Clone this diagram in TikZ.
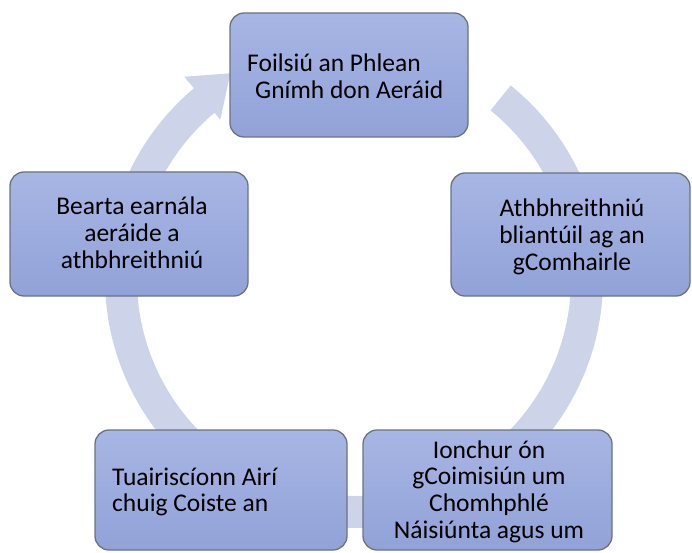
\documentclass[tikz,border=0pt]{standalone}
\usepackage{fontspec}
\setmainfont{Carlito}
\newcommand\cstack[1]{\vtop{\halign{\hfil##\hfil\cr#1\crcr}}}
\newcommand\lstack[1]{\vtop{\halign{##\hfil\cr#1\crcr}}}
\definecolor{ringc}{HTML}{CDD4EA}
\definecolor{boxtop}{HTML}{A8B6E4}
\definecolor{boxbot}{HTML}{91A2D8}
\definecolor{boxline}{HTML}{6C7282}
\begin{document}
\begin{tikzpicture}[x=1pt,y=1pt,
  cbox/.style={draw=boxline, line width=1.3pt, rounded corners=14pt,
    top color=boxtop, bottom color=boxbot, inner sep=0pt},
  ctext/.style={inner sep=0pt, font=\fontsize{25.5}{26.7}\selectfont, text=black}]
\useasboundingbox (0,0) rectangle (692,552);
% cycle ring with arrow head
\begin{scope}[shift={(354,273)}]
  \fill[ringc] (51:249) arc[start angle=51, end angle=-230, radius=249pt]
    -- (130:264) -- (121:240) -- (130:208) -- (130:217)
    arc[start angle=-230, end angle=51, radius=217pt] -- cycle;
\end{scope}
% boxes
\node[cbox, minimum width=238pt, minimum height=124pt] (top) at (349,477) {};
\node[cbox, minimum width=238pt, minimum height=124pt] (left) at (129,318) {};
\node[cbox, minimum width=239pt, minimum height=123pt] (right) at (570.5,317.5) {};
\node[cbox, minimum width=252pt, minimum height=120pt] (bl) at (221,62) {};
\node[cbox, minimum width=249pt, minimum height=120pt] (br) at (487.5,62) {};
% texts
\node[ctext, anchor=base west] (topt) at (247,480)
  {\lstack{Foilsiú an Phlean\cr\hspace{8pt}Gnímh don Aeráid}};
\node[ctext, anchor=base] (leftt) at (132,337)
  {\cstack{Bearta earnála\cr aeráide a\cr athbhreithniú}};
\node[ctext, anchor=base] (rightt) at (572,335)
  {\cstack{Athbhreithniú\cr bliantúil ag an\cr gComhairle}};
\node[ctext, anchor=base west] (blt) at (112,67)
  {\lstack{Tuairiscíonn Airí\cr chuig Coiste an}};
\node[ctext, anchor=base] (brt) at (489,94)
  {\cstack{Ionchur ón\cr gCoimisiún um\cr Chomhphlé\cr Náisiúnta agus um}};
\end{tikzpicture}
\end{document}
